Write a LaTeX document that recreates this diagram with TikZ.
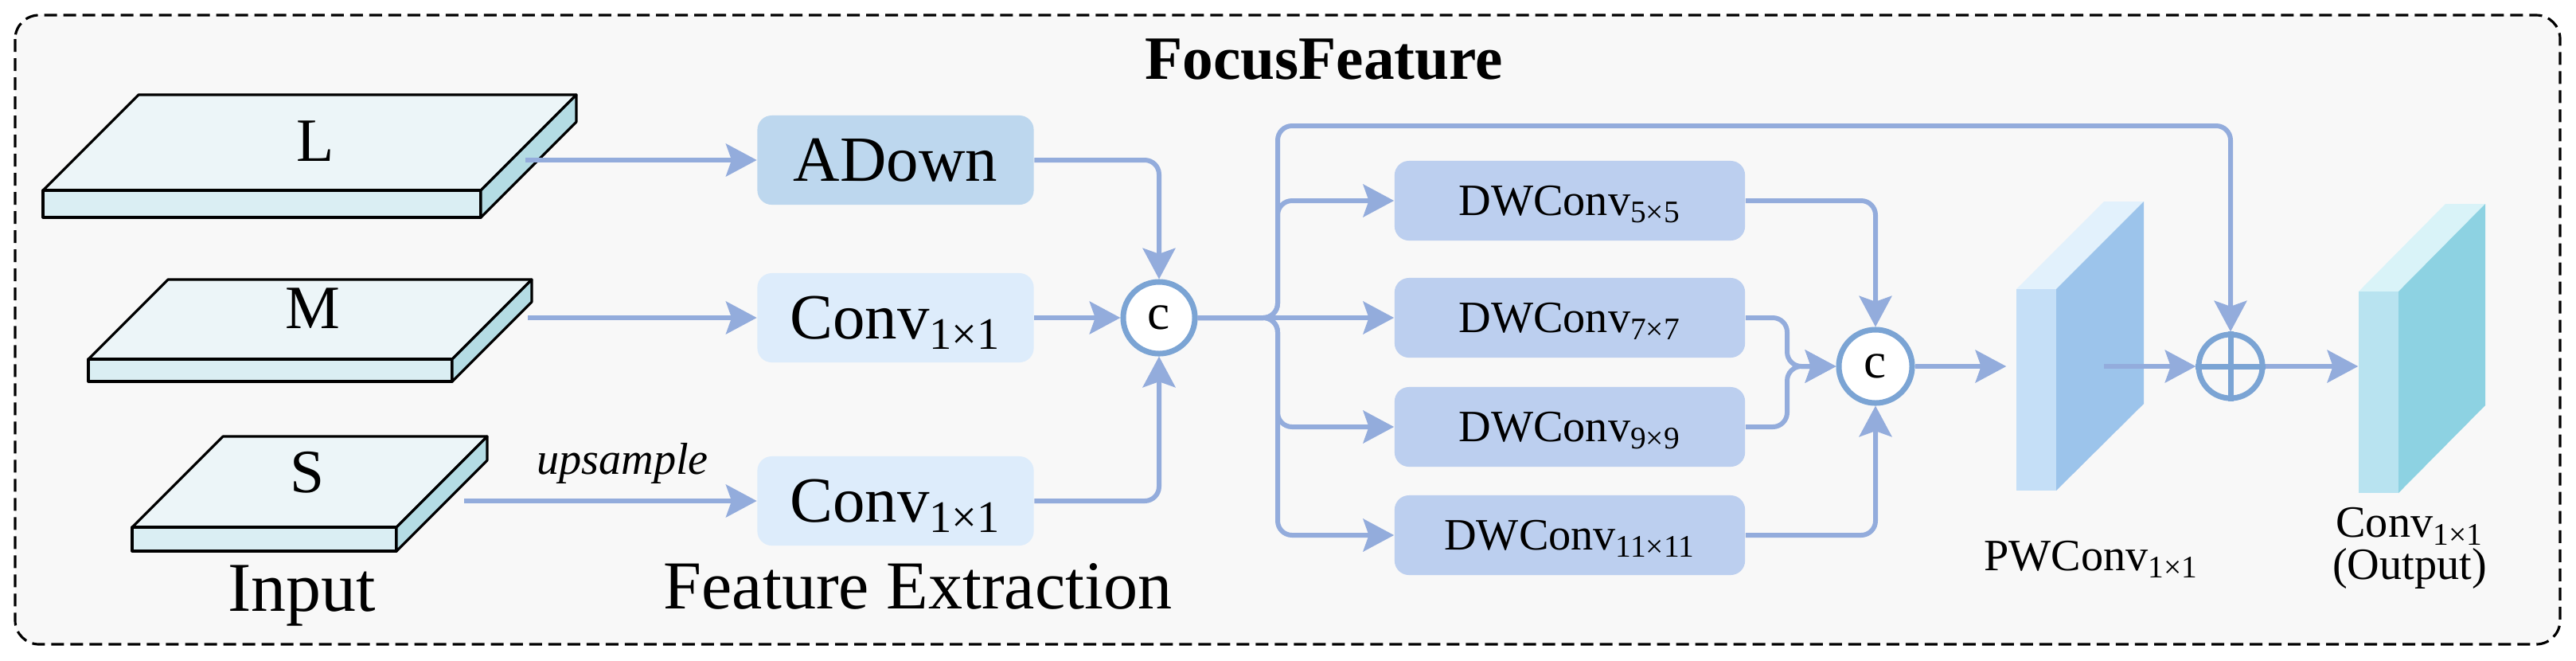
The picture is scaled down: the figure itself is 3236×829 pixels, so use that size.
\documentclass[tikz,border=0pt]{standalone}
\usepackage{fontspec}
\setmainfont{Liberation Serif}
\usetikzlibrary{arrows.meta}

\definecolor{linkblue}{HTML}{93ACDC}
\definecolor{ringblue}{HTML}{7BA4D4}
\definecolor{adownblue}{HTML}{BDD7EE}
\definecolor{convblue}{HTML}{DDECFB}
\definecolor{dwblue}{HTML}{BCCFEF}
\definecolor{panelgray}{HTML}{F8F8F8}
\definecolor{slabtop}{HTML}{ECF5F8}
\definecolor{slabfront}{HTML}{DAEEF3}
\definecolor{slabside}{HTML}{B4DCE4}
\definecolor{pwfront}{HTML}{C5DFF7}
\definecolor{pwtop}{HTML}{E2F1FC}
\definecolor{pwside}{HTML}{9CC4EB}
\definecolor{outfront}{HTML}{B8E3F0}
\definecolor{outtop}{HTML}{D9F3F8}
\definecolor{outside}{HTML}{8DD2E2}

\newcommand{\lowidx}[1]{\textsubscript{#1}}

\tikzset{
  link/.style={draw=linkblue, line width=1.7pt, rounded corners=0.18cm},
  flow/.style={link, -{Stealth[length=11pt, width=11.6pt, inset=2pt]}},
  block/.style={rounded corners=0.18cm, inner sep=0pt, text depth=0pt},
  featbox/.style={block, minimum width=3.47cm, minimum height=1.12cm, font=\fontsize{23}{27}\selectfont},
  dwbox/.style={block, fill=dwblue, minimum width=4.4cm, minimum height=1cm, font=\fontsize{16}{19}\selectfont},
  ring/.style={circle, draw=ringblue, line width=2pt, inner sep=0pt},
  slabface/.style={draw=black, line width=0.9pt, line join=round},
  slabname/.style={font=\fontsize{22}{26}\selectfont},
  caption/.style={font=\fontsize{16}{19}\selectfont, anchor=base},
}

\begin{document}
\begin{tikzpicture}[x=0.01cm, y=-0.01cm]
  \useasboundingbox (0,0) rectangle (3236,829);
  \draw[fill=panelgray, dash pattern=on 0.16cm off 0.08cm, line width=0.9pt, rounded corners=0.3cm] (19,19) rectangle (3216,809);
  \node[font=\fontsize{22}{26}\selectfont\bfseries, anchor=base] (title) at (1663,99) {FocusFeature};

  % input slabs
  \filldraw[slabface, fill=slabtop] (54,239) -- (604,239) -- (724,119) -- (174,119) -- cycle;
  \filldraw[slabface, fill=slabfront] (54,239) rectangle (604,273);
  \filldraw[slabface, fill=slabside] (604,239) -- (724,119) -- (724,153) -- (604,273) -- cycle;
  \node[slabname] (lname) at (396,177) {L};

  \filldraw[slabface, fill=slabtop] (111,451) -- (568,451) -- (668,351) -- (211,351) -- cycle;
  \filldraw[slabface, fill=slabfront] (111,451) rectangle (568,479);
  \filldraw[slabface, fill=slabside] (568,451) -- (668,351) -- (668,379) -- (568,479) -- cycle;
  \node[slabname] (mname) at (393,387) {M};

  \filldraw[slabface, fill=slabtop] (166,662) -- (498,662) -- (612,548) -- (280,548) -- cycle;
  \filldraw[slabface, fill=slabfront] (166,662) rectangle (498,692);
  \filldraw[slabface, fill=slabside] (498,662) -- (612,548) -- (612,578) -- (498,692) -- cycle;
  \node[slabname] (sname) at (386,593) {S};

  \node[font=\fontsize{25}{30}\selectfont, anchor=base] (inlab) at (379,767) {Input};
  \node[font=\fontsize{16}{19}\selectfont\itshape, anchor=base] (uplab) at (782,595) {upsample};
  \node[font=\fontsize{24.5}{29}\selectfont, anchor=base] (felab) at (1153,764) {Feature Extraction};

  % feature extraction
  \node[featbox, fill=adownblue] (adown) at (1125,201) {ADown};
  \node[featbox, fill=convblue] (convm) at (1125,399) {Conv\lowidx{1×1}};
  \node[featbox, fill=convblue] (convs) at (1125,629) {Conv\lowidx{1×1}};
  \node[ring, fill=white, minimum size=0.9cm, font=\fontsize{18}{20}\selectfont] (cat1) at (1456,399) {c};

  % depthwise branches
  \node[dwbox] (dw5) at (1972,252) {DWConv\lowidx{5×5}};
  \node[dwbox] (dw7) at (1972,399) {DWConv\lowidx{7×7}};
  \node[dwbox] (dw9) at (1972,536) {DWConv\lowidx{9×9}};
  \node[dwbox] (dw11) at (1972,672) {DWConv\lowidx{11×11}};
  \node[ring, fill=white, minimum size=0.92cm, font=\fontsize{18}{20}\selectfont] (cat2) at (2356,460) {c};

  % pointwise and output blocks
  \fill[pwtop] (2533,363) -- (2583,363) -- (2693,253) -- (2643,253) -- cycle;
  \fill[pwside] (2583,363) -- (2693,253) -- (2693,507) -- (2583,616) -- cycle;
  \node[fill=pwfront, minimum width=0.5cm, minimum height=2.53cm, inner sep=0pt] (pw) at (2558,489.5) {};
  \node[caption] (pwlab) at (2627,716) {PWConv\lowidx{1×1}};

  \fill[outtop] (2963,366) -- (3013,366) -- (3122,256) -- (3072,256) -- cycle;
  \fill[outside] (3013,366) -- (3122,256) -- (3122,509) -- (3013,619) -- cycle;
  \node[fill=outfront, minimum width=0.5cm, minimum height=2.53cm, inner sep=0pt] (outconv) at (2988,492.5) {};
  \node[font=\fontsize{16}{14.8}\selectfont, align=center, anchor=north, inner sep=0pt] (outlab) at (3027,637) {Conv\lowidx{1×1}\\(Output)};

  \node[ring, minimum size=0.8cm] (add) at (2802,460) {};
  \draw[ringblue, line width=2pt] (add.north) -- (add.south) (add.west) -- (add.east);

  % connectors
  \coordinate (lsrc) at (660,201);
  \coordinate (msrc) at (663,399);
  \coordinate (ssrc) at (583,629);
  \coordinate (fork) at (1605,399);
  \coordinate (skiptop) at (1605,158);
  \coordinate (merge) at (2245,460);
  \coordinate (pwsrc) at (2643,460);

  \draw[flow] (lsrc) -- (adown);
  \draw[flow] (msrc) -- (convm);
  \draw[flow] (ssrc) -- (convs);
  \draw[flow] (adown.east) -| (cat1.north);
  \draw[flow] (convm) -- (cat1);
  \draw[flow] (convs.east) -| (cat1.south);

  \draw[flow] (cat1) -- (dw7);
  \draw[flow] (cat1.east) -- (fork) |- (dw5.west);
  \draw[flow] (cat1.east) -- (fork) |- (dw9.west);
  \draw[flow] (cat1.east) -- (fork) |- (dw11.west);
  \draw[flow] (cat1.east) -- (fork) -- (skiptop) -| (add.north);

  \draw[flow] (dw5.east) -| (cat2.north);
  \draw[flow] (dw7.east) -| (merge) -- (cat2.west);
  \draw[flow] (dw9.east) -| (merge) -- (cat2.west);
  \draw[flow] (dw11.east) -| (cat2.south);

  \draw[flow, shorten >=0.12cm] (cat2.east) -- (cat2.east -| pw.west);
  \draw[flow] (pwsrc) -- (add.west);
  \draw[flow] (add.east) -- (add.east -| outconv.west);
\end{tikzpicture}
\end{document}
